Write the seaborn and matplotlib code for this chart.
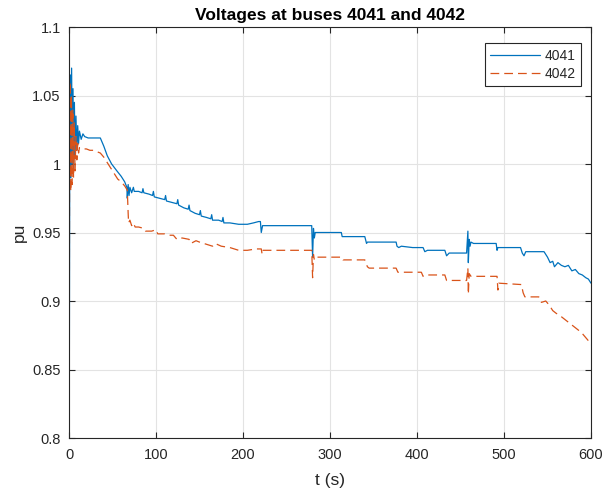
import matplotlib
matplotlib.use("Agg")
import matplotlib.pyplot as plt
import seaborn as sns
import pandas as pd

# Bus 4041 voltage (pu) over time (s)
t_4041 = [0, 0.8, 1.5, 2.2, 3, 3.8, 4.6, 5.4, 6.2, 7, 8, 9, 10, 11, 12, 14, 16, 18, 22, 26,
          30, 34, 36, 40, 44, 49, 55, 60, 64, 66.5, 67, 68, 69, 70, 72, 74, 75, 80, 84, 85,
          86, 92, 96, 97, 98, 104, 110, 111, 112, 118, 124, 125, 126, 132, 137, 138, 139, 145, 150, 151,
          152, 158, 163, 164, 165, 172, 176, 177, 178, 185, 195, 205, 212, 218, 220, 221, 222.5, 230, 250, 270,
          279, 280, 281, 282, 283, 290, 300, 313, 314, 315, 340, 342, 343, 376, 377, 379, 382, 395, 407, 409,
          412, 432, 434, 437, 457, 458.5, 459, 460, 461, 462, 465, 491, 492, 493, 519, 521, 523, 525, 546, 550,
          553, 556, 558, 562, 566, 570, 574, 578, 582, 586, 590, 594, 597, 600]
v_4041 = [0.70, 1.00, 1.065, 0.99, 1.07, 1.00, 1.055, 0.995, 1.045, 1.005, 1.035, 1.01, 1.028, 1.015, 1.024, 1.018, 1.022, 1.02, 1.019, 1.019,
          1.019, 1.019, 1.019, 1.013, 1.006, 1.000, 0.995, 0.991, 0.987, 0.983, 0.975, 0.985, 0.977, 0.983, 0.979, 0.983, 0.980, 0.980, 0.979, 0.982,
          0.979, 0.978, 0.977, 0.980, 0.976, 0.975, 0.974, 0.977, 0.973, 0.972, 0.971, 0.974, 0.970, 0.968, 0.967, 0.970, 0.966, 0.964, 0.963, 0.966,
          0.962, 0.961, 0.960, 0.963, 0.959, 0.959, 0.958, 0.961, 0.957, 0.957, 0.956, 0.956, 0.957, 0.958, 0.958, 0.950, 0.955, 0.955, 0.955, 0.955,
          0.955, 0.932, 0.953, 0.946, 0.950, 0.950, 0.950, 0.950, 0.947, 0.947, 0.947, 0.942, 0.943, 0.943, 0.940, 0.939, 0.940, 0.939, 0.939, 0.936,
          0.937, 0.937, 0.933, 0.935, 0.935, 0.951, 0.928, 0.945, 0.940, 0.943, 0.942, 0.942, 0.937, 0.939, 0.939, 0.935, 0.933, 0.936, 0.936, 0.932,
          0.928, 0.929, 0.925, 0.928, 0.926, 0.925, 0.926, 0.922, 0.923, 0.920, 0.919, 0.917, 0.916, 0.913]

# Bus 4042 voltage (pu) over time (s)
t_4042 = [0, 0.6, 1.3, 2, 2.8, 3.6, 4.4, 5.2, 6, 7, 8, 9, 10, 11, 12, 16, 20, 24, 28, 32,
          36, 40, 44, 48, 52, 56, 60, 64, 67, 68, 68.5, 70, 72, 74, 76, 80, 86, 88, 95, 100,
          102, 110, 115, 120, 124, 130, 138, 140, 146, 150, 155, 160, 165, 168, 175, 185, 195, 205, 215, 221,
          222, 223, 240, 260, 279, 280, 281, 282, 284, 300, 314, 315, 340, 343, 345, 376, 378, 405, 407, 410,
          432, 434, 457, 458.5, 459, 460, 462, 492, 493, 494, 520, 522, 524, 540, 543, 548, 552, 556, 560, 565,
          569, 573, 577, 581, 585, 589, 593, 597, 600]
v_4042 = [0.70, 1.00, 1.06, 0.98, 1.05, 0.985, 1.04, 0.99, 1.03, 0.995, 1.02, 1.003, 1.015, 1.008, 1.012, 1.011, 1.011, 1.010, 1.010, 1.009,
          1.008, 1.005, 1.001, 0.997, 0.993, 0.989, 0.987, 0.984, 0.981, 0.964, 0.957, 0.959, 0.955, 0.957, 0.954, 0.954, 0.953, 0.951, 0.951, 0.952,
          0.949, 0.949, 0.948, 0.948, 0.945, 0.946, 0.945, 0.942, 0.944, 0.943, 0.942, 0.941, 0.940, 0.942, 0.940, 0.939, 0.937, 0.937, 0.938, 0.938,
          0.934, 0.937, 0.937, 0.937, 0.937, 0.917, 0.934, 0.930, 0.932, 0.932, 0.932, 0.930, 0.930, 0.925, 0.924, 0.924, 0.921, 0.921, 0.918, 0.919,
          0.919, 0.915, 0.915, 0.924, 0.905, 0.920, 0.918, 0.918, 0.908, 0.913, 0.912, 0.906, 0.903, 0.903, 0.899, 0.900, 0.897, 0.893, 0.891, 0.889,
          0.887, 0.885, 0.883, 0.881, 0.879, 0.877, 0.874, 0.871, 0.868]

title = "Voltages at buses 4041 and 4042"
x_label = "t (s)"
y_label = "pu"
x_ticks = [0, 100, 200, 300, 400, 500, 600]
y_ticks = [0.8, 0.85, 0.9, 0.95, 1.0, 1.05, 1.1]
y_tick_labels = ["0.8", "0.85", "0.9", "0.95", "1", "1.05", "1.1"]

sns.set_theme(style="whitegrid")
plt.rcParams["font.family"] = ["Liberation Sans", "DejaVu Sans"]

fig = plt.figure(figsize=(6.03, 4.90), dpi=100)
ax = fig.add_axes([69 / 603, 1 - 438 / 490, 522 / 603, 411 / 490])

df1 = pd.DataFrame({"t": t_4041, "v": v_4041})
df2 = pd.DataFrame({"t": t_4042, "v": v_4042})
sns.lineplot(data=df1, x="t", y="v", ax=ax, color="#0072BD", lw=0.9,
             estimator=None, sort=False, label="4041")
sns.lineplot(data=df2, x="t", y="v", ax=ax, color="#D95319", lw=0.9,
             estimator=None, sort=False, label="4042")
ax.lines[1].set_dashes([7, 4])

ax.set_xlim(0, 600)
ax.set_ylim(0.8, 1.1)
ax.set_xticks(x_ticks)
ax.set_yticks(y_ticks)
ax.set_yticklabels(y_tick_labels)
ax.set_facecolor("white")
ax.grid(True, color="#e3e3e3", lw=0.8)
for s in ax.spines.values():
    s.set_color("#262626")
    s.set_linewidth(0.8)
ax.tick_params(direction="in", length=4, width=0.8, color="#262626",
               labelsize=10.5, labelcolor="#262626", top=True, right=True,
               left=True, bottom=True)
ax.tick_params(axis="x", pad=7)
ax.tick_params(axis="y", pad=6)
ax.set_xlabel(x_label, fontsize=12.5, color="#262626", labelpad=8)
ax.set_ylabel(y_label, fontsize=12.5, color="#262626", labelpad=4)
ax.set_title(title, fontsize=12.5, fontweight="bold", color="black", pad=5)

leg = ax.legend(loc="upper right", bbox_to_anchor=(0.981, 0.961), borderaxespad=0,
                fontsize=10, frameon=True, fancybox=False,
                edgecolor="#262626", framealpha=1, handlelength=3.6,
                borderpad=0.4, labelspacing=0.3, handletextpad=0.3)
leg.get_frame().set_linewidth(0.8)

fig.savefig("out.png", dpi=100, facecolor="white")
